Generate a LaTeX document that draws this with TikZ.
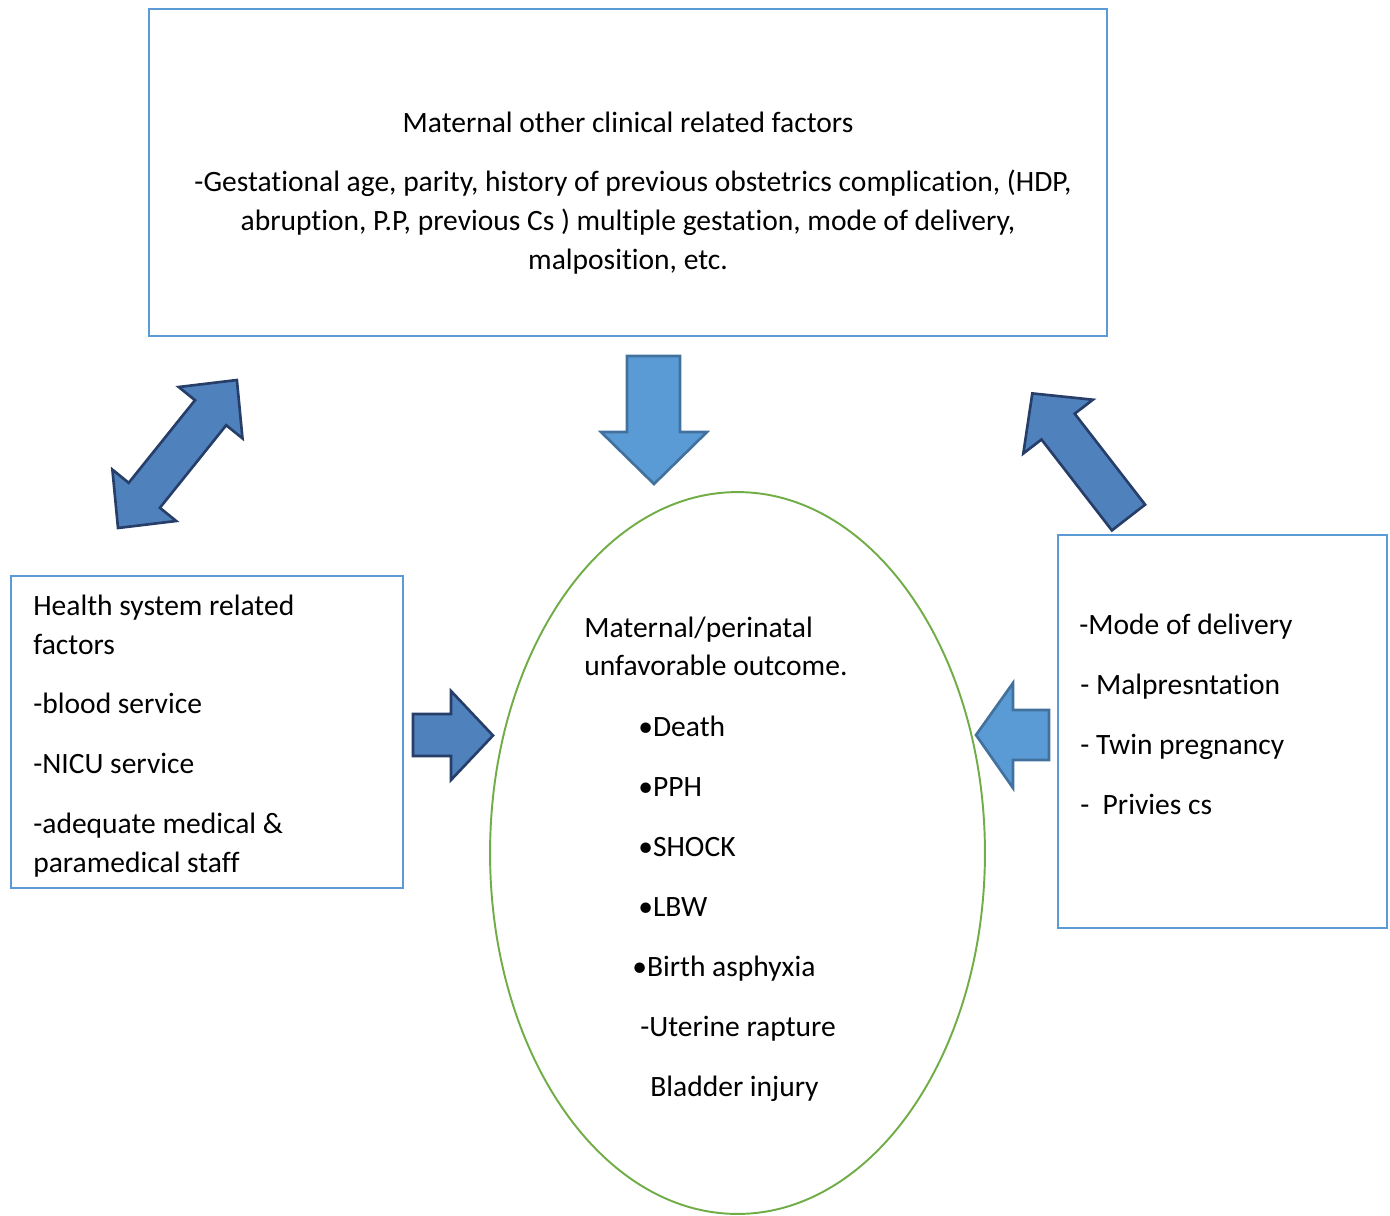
\documentclass[tikz,border=0pt]{standalone}
\usepackage{fontspec}
\setmainfont{Carlito}[Ligatures=NoCommon]
\usepackage{xcolor}
\usepackage{tikz}
\usetikzlibrary{shapes.geometric, positioning}
\definecolor{boxblue}{RGB}{91,155,213}
\definecolor{darkfill}{RGB}{79,129,189}
\definecolor{darkedge}{RGB}{38,62,104}
\definecolor{lightfill}{RGB}{91,155,213}
\definecolor{lightedge}{RGB}{65,113,156}
\definecolor{ovalgreen}{RGB}{112,173,71}

\begin{document}
\begin{tikzpicture}[x=0.02cm, y=-0.02cm,
    box/.style={rectangle, draw=boxblue, line width=1.1pt, inner sep=0pt},
    oval/.style={ellipse, draw=ovalgreen, line width=1.1pt, inner sep=0pt,
                 minimum width=9.9cm, minimum height=14.44cm},
    txt/.style={inner sep=0pt, anchor=west, text height=10.8pt, text depth=0pt,
                font=\fontsize{16.8}{22}\selectfont},
    ctxt/.style={txt, anchor=center},
    darkblock/.style={fill=darkfill, draw=darkedge, line width=1.5pt},
    lightblock/.style={fill=lightfill, draw=lightedge, line width=1.5pt}]

\useasboundingbox (0,0) rectangle (1390,1215);

% Boxes and the outcome oval
\node (clinical) [box, minimum width=19.16cm, minimum height=6.54cm] at (628,172.5) {};
\node (health)   [box, minimum width=7.84cm,  minimum height=6.24cm] at (207,732)   {};
\node (delivery) [box, minimum width=6.58cm,  minimum height=7.86cm] at (1222.5,731.5) {};
\node (outcome)  [oval] at (737.5,853) {};

% Top box text
\node (cl0) [ctxt] at (628,123) {Maternal other clinical related factors};
\node (cl1) [ctxt] at (633,182) {-Gestational age, parity, history of previous obstetrics complication, (HDP,};
\node (cl2) [ctxt] at (628,221) {abruption, P.P, previous Cs ) multiple gestation, mode of delivery,};
\node (cl3) [ctxt] at (628,260) {malposition, etc.};

% Left box text
\node (hs0) [txt] at (33,606) {Health system related};
\node (hs1) [txt] at (33,645) {factors};
\node (hs2) [txt] at (33,704) {-blood service};
\node (hs3) [txt] at (33,764) {-NICU service};
\node (hs4) [txt] at (33,824) {-adequate medical \&};
\node (hs5) [txt] at (33,863) {paramedical staff};

% Right box text
\node (dl0) [txt] at (1079,625) {-Mode of delivery};
\node (dl1) [txt] at (1080,685) {- Malpresntation};
\node (dl2) [txt] at (1080,745) {- Twin pregnancy};
\node (dl3) [txt] at (1080,805) {-\ \ Privies cs};

% Oval text
\node (oc0) [txt] at (584,628)  {Maternal/perinatal};
\node (oc1) [txt] at (584,666)  {unfavorable outcome.};
\node (oc2) [txt] at (638,727)  {•Death};
\node (oc3) [txt] at (638,787)  {•PPH};
\node (oc4) [txt] at (638,847)  {•SHOCK};
\node (oc5) [txt] at (638,907)  {•LBW};
\node (oc6) [txt] at (632,967)  {•Birth asphyxia};
\node (oc7) [txt] at (640,1027) {-Uterine rapture};
\node (oc8) [txt] at (650,1087) {Bladder injury};

% Block arrows
\draw [lightblock] (627,356) -- (680,356) -- (680,432) -- (707,432) -- (654,484)
                   -- (601,432) -- (627,432) -- cycle;
\draw [darkblock]  (413,714) -- (451,714) -- (451,691) -- (493,735.5) -- (451,780)
                   -- (451,756) -- (413,756) -- cycle;
\draw [lightblock] (1049,710) -- (1013,710) -- (1013,683) -- (976,735) -- (1013,788)
                   -- (1013,760) -- (1049,760) -- cycle;
\draw [darkblock]  (118,528) -- (176.2,521.0) -- (159.9,507.8) -- (226.2,425.2) -- (242.5,438.4)
                   -- (236.9,380) -- (178.7,387.0) -- (195.0,400.2) -- (128.7,482.8)
                   -- (112.4,469.6) -- cycle;
\draw [darkblock]  (1145.1,504.6) -- (1074.7,413.7) -- (1092.9,399.7) -- (1032.3,393.4)
                   -- (1023.3,453.5) -- (1041.5,439.5) -- (1111.9,530.4) -- cycle;

\end{tikzpicture}
\end{document}
